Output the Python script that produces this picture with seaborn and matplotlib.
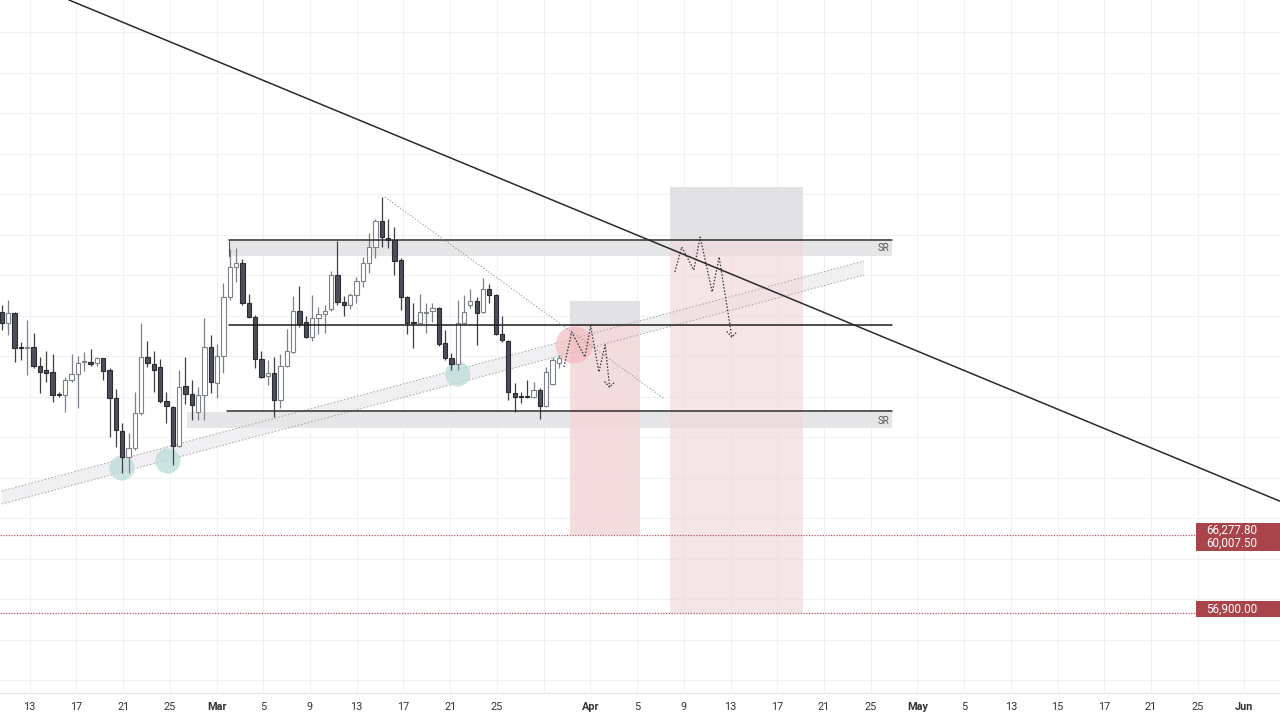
import numpy as np
import pandas as pd
import matplotlib
matplotlib.use("Agg")
import matplotlib.pyplot as plt
from matplotlib.patches import Rectangle, Polygon
import seaborn as sns

# velas (indice = posicao da vela)
abertura = [68920,68480,68880,67520,67480,67520,66760,66600,66520,65640,
            65600,66200,66440,66920,66920,66880,67080,66600,65480,64160,
            63120,63480,64880,67120,66840,66720,65360,65120,63560,65960,
            65640,64920,65600,67520,66080,67160,69520,70720,70880,69280,
            68720,67040,66360,66480,65400,66760,67320,68960,68520,67920,
            68680,68840,69040,70400,69320,69200,69600,70160,70880,71520,
            72560,71880,71800,71000,69520,68520,68480,68880,68960,69080,
            67680,67080,66840,68480,69200,69360,68920,69840,69600,68040,
            67760,65680,65520,65520,65520,65800,65160,66040,66880]
maxima = [69200,69400,68920,67720,68600,68080,67120,67360,67240,65720,
          66320,67240,67160,67320,67440,67120,67080,66680,65840,64480,
          64080,65720,68480,67760,67360,67040,65720,65160,66600,67120,
          66200,65920,68680,68000,67640,70080,71440,71480,71040,69640,
          68800,67360,67000,67120,67240,68240,69560,69960,68760,69600,
          69120,69200,70560,71760,69560,69680,70320,71120,72080,72640,
          73520,72640,72320,71080,69560,69280,69640,69280,69280,69120,
          68200,67280,69400,69600,69840,69520,70280,70040,69640,68760,
          67800,66080,65720,66200,66120,65880,66720,67120,67200]
minima = [68200,68000,66920,67000,66400,66680,65680,66120,65320,65520,
          64920,66120,65080,66560,66760,66760,66200,63920,63520,62480,
          62480,63400,64800,66720,65720,65280,64480,62800,63520,65240,
          64600,64600,64600,65680,65480,66480,69400,70120,69200,68680,
          66680,66280,66000,64720,65080,66720,67280,68320,67880,67760,
          68040,68080,68960,69200,68760,69040,69280,69920,70480,71080,
          71520,71480,70400,69000,68040,67480,68480,68080,68520,67560,
          67000,66600,66600,68440,69080,67600,68880,69280,68000,67720,
          65400,64920,65280,65480,65480,64640,65120,66000,66680]
fechamento = [68480,68880,67480,67480,67520,66760,66520,66480,65600,65600,
              66200,66440,66880,66960,66840,67080,66560,65480,64200,63120,
              63480,64880,67120,66880,66600,65360,65160,63560,65920,65640,
              65200,65600,67520,66120,67160,69520,70720,70880,69280,68720,
              67040,66320,66480,65400,66760,67360,68960,68440,67920,68680,
              68840,68960,70400,69320,69200,69600,70160,70880,71520,72560,
              71920,71800,70960,69520,68480,68480,68920,68920,69080,67640,
              67080,66840,68480,68920,69360,68880,69840,69600,68040,67800,
              65720,65520,65520,65520,65800,65160,66520,67000,67080]

# eixo x
rotulos_x = ['13','17','21','25','Mar','5','9','13','17','21','25','',
             'Apr','5','9','13','17','21','25','May','5','13','15','17',
             '21','25','Jun']
meses = ['Mar','Apr','May','Jun']

# linhas de preco
precos_alvo = [60007.50, 56900.00]
rotulos_preco = ['66,277.80', '60,007.50', '56,900.00']

df = pd.DataFrame({'o': abertura, 'h': maxima, 'l': minima, 'c': fechamento})
df['idx'] = np.arange(len(df))
df['alta'] = df['c'] > df['o']

sns.set_theme(style='white')
plt.rcParams['font.family'] = ['Roboto', 'DejaVu Sans']

fig = plt.figure(figsize=(12.8, 7.2), dpi=100)
ax = fig.add_axes([0, 27/720, 1, 693/720])

# grade
pos_x = 4.4 + 7.38*np.arange(len(rotulos_x))
ax.set_xticks(pos_x)
ax.set_xticklabels(rotulos_x)
for t in ax.get_xticklabels():
    t.set_color('#333333')
    t.set_fontsize(7.8)
    if t.get_text() in meses:
        t.set_fontweight('bold')
ax.set_yticks(80120 - 1620*np.arange(17))
ax.set_yticklabels([])
ax.tick_params(axis='both', length=0, pad=6.5)
ax.grid(True, color='#f0f1f4', lw=0.8, zorder=0)
for s in ['top', 'left', 'right']:
    ax.spines[s].set_visible(False)
ax.spines['bottom'].set_color('#e3e4e8')
ax.spines['bottom'].set_linewidth(0.8)
# limites depois dos ticks (set_yticks expande a vista)
ax.set_xlim(-0.3, 201.9)
ax.set_ylim(53680, 81400)

# canal de alta (faixa clara pontilhada)
topo_canal = [(0, 61760), (136.2, 70960)]
base_canal = [(0, 61240), (136.2, 70400)]
ax.add_patch(Polygon(topo_canal + base_canal[::-1], closed=True,
                     facecolor='#ededef', edgecolor='none', alpha=0.8, zorder=1))
for seg in [topo_canal, base_canal]:
    ax.plot([seg[0][0], seg[1][0]], [seg[0][1], seg[1][1]], ls=(0, (1.5, 2)),
            color='#a0a0a0', lw=0.7, zorder=2)

# zonas SR
ax.add_patch(Rectangle((35.9, 71160), 140.6-35.9, 600, facecolor='#e6e6e8',
                       edgecolor='none', zorder=1))
ax.add_patch(Rectangle((29.2, 64280), 140.6-29.2, 640, facecolor='#e6e6e8',
                       edgecolor='none', zorder=1))
ax.plot([35.9, 140.6], [71800, 71800], color='#2c2c2c', lw=1.1, zorder=4)
ax.plot([35.9, 35.9], [71160, 71800], color='#555555', lw=0.8, zorder=4)
ax.plot([35.9, 140.6], [68400, 68400], color='#1e1e1e', lw=1.1, zorder=4)
ax.plot([35.5, 140.6], [64960, 64960], color='#2c2c2c', lw=1.1, zorder=4)
ax.text(140.2, 71480, 'SR', ha='right', va='center', fontsize=7, color='#555555', zorder=5)
ax.text(140.2, 64560, 'SR', ha='right', va='center', fontsize=7, color='#555555', zorder=5)

# caixas de posicao
ax.add_patch(Rectangle((89.7, 68360), 100.8-89.7, 69360-68360, facecolor='#e2e2e5',
                       edgecolor='none', zorder=1))
ax.add_patch(Rectangle((89.7, 60007.5), 100.8-89.7, 68360-60007.5, facecolor='#f2d6d9',
                       edgecolor='none', alpha=0.85, zorder=1))
ax.add_patch(Rectangle((105.5, 71720), 126.5-105.5, 73920-71720, facecolor='#e2e2e5',
                       edgecolor='none', zorder=1))
ax.add_patch(Rectangle((105.5, 56900), 126.5-105.5, 71720-56900, facecolor='#f2d8db',
                       edgecolor='none', alpha=0.65, zorder=1.5))

# circulos de toque
ax.scatter([18.96, 26.2, 72.0], [62680, 62960, 66440], s=330, color='#bcdcd8',
           alpha=0.75, edgecolor='none', zorder=2.5)
ax.scatter([90.4], [67600], s=720, color='#f0b9bd', alpha=0.65, edgecolor='none', zorder=2.5)

# velas
for alta, sub in df.groupby('alta'):
    pavio = '#7d8088' if alta else '#3d3f45'
    ax.vlines(sub['idx'], sub['l'], sub['h'], color=pavio, lw=0.9, zorder=3)
    base = np.minimum(sub['o'], sub['c'])
    alt = np.maximum(np.abs(sub['c'] - sub['o']), 45)
    ax.bar(sub['idx'], alt, bottom=base, width=0.68,
           color='#ffffff' if alta else '#4c4f5a',
           edgecolor='#7d8088' if alta else '#2a2c31', linewidth=0.8, zorder=3.2)

# linha de tendencia de baixa
ax.plot([10.6, 202.2], [81400, 61320], color='#2a2a2a', lw=1.1, zorder=4)
# linha pontilhada fina do topo
ax.plot([60.5, 104.7], [73520, 65440], color='#8a8a8a', ls=(0, (1.2, 2)), lw=0.7, zorder=4)

# projecoes em zigue-zague
zz1_x = [88.8, 90.0, 92.1, 93.0, 94.3, 95.3, 96.0]
zz1_y = [66720, 68120, 67120, 68360, 66520, 67600, 65920]
zz2_x = [106.3, 107.4, 109.3, 110.3, 112.2, 113.3, 115.3]
zz2_y = [70520, 71520, 70600, 71920, 69720, 71120, 67920]
for zx, zy in [(zz1_x, zz1_y), (zz2_x, zz2_y)]:
    ax.plot(zx, zy, color='#333333', ls=(0, (1.2, 1.4)), lw=0.9, zorder=4)
    ax.plot([zx[-1]-0.8, zx[-1], zx[-1]+0.8], [zy[-1]+220, zy[-1], zy[-1]+200],
            color='#333333', ls=(0, (1.2, 1.2)), lw=0.9, zorder=4)

# linhas de preco alvo
for p in precos_alvo:
    ax.plot([-0.3, 188.8], [p, p], color='#b4535b', ls=(0, (1, 1.2)), lw=0.9, zorder=4)

ax.add_patch(Rectangle((188.6, 59360), 13.6, 1120, facecolor='#a9444b',
                       edgecolor='none', zorder=5, clip_on=False))
ax.add_patch(Rectangle((188.6, 56720), 13.6, 640, facecolor='#a9444b',
                       edgecolor='none', zorder=5, clip_on=False))
for txt, yy in zip(rotulos_preco, [60200, 59680, 57040]):
    ax.text(190.2, yy, txt, ha='left', va='center', color='white',
            fontsize=8.4, zorder=6)

fig.savefig('out.png', dpi=100)
